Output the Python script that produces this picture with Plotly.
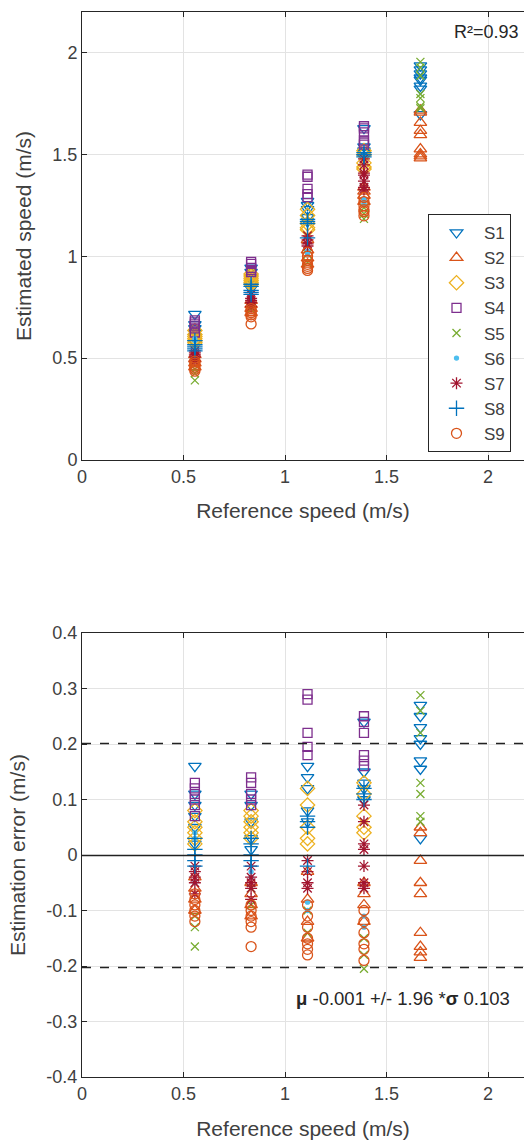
import plotly.graph_objects as go

# ---------------- data ----------------
ref_speeds = [0.556, 0.833, 1.111, 1.389, 1.667]
subjects = ["S1", "S2", "S3", "S4", "S5", "S6", "S7", "S8", "S9"]

# estimation errors (m/s) per subject, one list per reference speed
err_S1 = [[0.16, 0.11, 0.09, 0.07, 0.05, 0.02],
          [0.11, 0.09, 0.06, 0.03, 0.01],
          [0.16, 0.14, 0.12, 0.08, 0.06],
          [0.24, 0.15, 0.13, 0.12, 0.10],
          [0.27, 0.25, 0.23, 0.21, 0.20, 0.17, 0.155, 0.03]]
err_S2 = [[-0.04, -0.06, -0.08, -0.10],
          [-0.05, -0.07, -0.09, -0.11],
          [-0.03, -0.08, -0.12, -0.15],
          [-0.05, -0.07, -0.09, -0.12],
          [0.05, 0.04, -0.01, -0.05, -0.07, -0.14, -0.165, -0.175, -0.185]]
err_S3 = [[0.08, 0.06, 0.05, 0.04, 0.03, 0.02],
          [0.08, 0.07, 0.06, 0.05, 0.04, 0.03],
          [0.12, 0.09, 0.05, 0.03, 0.02],
          [0.13, 0.11, 0.07, 0.05, 0.04],
          []]
err_S4 = [[0.13, 0.12, 0.11, 0.10, 0.09, 0.07],
          [0.14, 0.13, 0.11, 0.10, 0.09],
          [0.29, 0.28, 0.22, 0.195, 0.18],
          [0.25, 0.24, 0.22, 0.18, 0.17, 0.16],
          []]
err_S5 = [[-0.11, -0.13, -0.165],
          [-0.06, -0.09],
          [-0.10, -0.14],
          [-0.15, -0.18, -0.205],
          [0.288, 0.26, 0.22, 0.13, 0.11, 0.07, 0.06]]
err_S6 = [[0.04, 0.03, -0.05],
          [-0.03, -0.04],
          [-0.085, -0.10],
          [-0.13, -0.11],
          []]
err_S7 = [[-0.02, -0.03, -0.04, -0.05, -0.07],
          [-0.02, -0.04, -0.05, -0.06, -0.08],
          [-0.01, -0.03, -0.05, -0.06],
          [0.09, 0.06, 0.02, 0.01, -0.02, -0.05, -0.06],
          []]
err_S8 = [[0.03, 0.01, 0.0, -0.01, -0.02],
          [0.03, 0.02, 0.0, -0.01, -0.02],
          [0.07, 0.06, 0.05, -0.02],
          [0.12, 0.11, 0.10],
          []]
err_S9 = [[-0.07, -0.08, -0.09, -0.10, -0.11, -0.12],
          [-0.09, -0.10, -0.11, -0.12, -0.13, -0.165],
          [-0.09, -0.11, -0.13, -0.15, -0.16, -0.17, -0.18],
          [-0.10, -0.12, -0.14, -0.16, -0.17, -0.19],
          []]
errors = [err_S1, err_S2, err_S3, err_S4, err_S5, err_S6, err_S7, err_S8, err_S9]

r_squared_text = "R²=0.93"
mean_err = -0.001
sd_err = 0.103
x_ticks = [0, 0.5, 1, 1.5, 2]
x_ticklabels = ["0", "0.5", "1", "1.5", "2"]
y1_ticks = [0, 0.5, 1, 1.5, 2]
y1_ticklabels = ["0", "0.5", "1", "1.5", "2"]
y2_ticks = [-0.4, -0.3, -0.2, -0.1, 0, 0.1, 0.2, 0.3, 0.4]
y2_ticklabels = ["-0.4", "-0.3", "-0.2", "-0.1", "0", "0.1", "0.2", "0.3", "0.4"]

# ---------------- styles ----------------
colors = ["#0072BD", "#D95319", "#EDB120", "#7E2F8E", "#77AC30",
          "#4DBEEE", "#A2142F", "#0072BD", "#D95319"]
symbols = ["triangle-down-open", "triangle-up-open", "diamond-open", "square-open",
           "x-thin-open", "circle", "asterisk-open", "cross-thin-open", "circle-open"]
sizes = [11, 11, 11, 9, 8, 4, 10, 11, 10]

W, H = 524, 1142
L = 82
PXU = 203.0          # pixels per m/s along x
top_px = (12, 460)
bot_px = (633, 1077)
FONT = "Liberation Sans, Arial, sans-serif"
AX = "#262626"
TXT = "#404040"
TICK_FS = 18
TITLE_FS = 21

fig = go.Figure()

for i, name in enumerate(subjects):
    xs, y_est, y_err = [], [], []
    for s, vals in zip(ref_speeds, errors[i]):
        for e in vals:
            xs.append(s)
            y_err.append(e)
            y_est.append(s + e)
    mk = dict(symbol=symbols[i], size=sizes[i], color=colors[i],
              line=dict(color=colors[i], width=1.3))
    fig.add_trace(go.Scatter(x=xs, y=y_est, mode="markers", name=name, marker=mk,
                             xaxis="x", yaxis="y", legendgroup=name, showlegend=True))
    fig.add_trace(go.Scatter(x=xs, y=y_err, mode="markers", name=name, marker=mk,
                             xaxis="x2", yaxis="y2", legendgroup=name, showlegend=False))

def dom(px):
    return [1 - px[1] / H, 1 - px[0] / H]

xr = [0, (W - L) / PXU]
axis_common = dict(showline=True, linecolor=AX, linewidth=1, ticks="inside", ticklen=5,
                   tickcolor=AX, tickfont=dict(family=FONT, size=TICK_FS, color=TXT),
                   showgrid=True, gridcolor="#e3e3e3", gridwidth=1, zeroline=False,
                   automargin=False)

fig.update_layout(
    template="none",
    width=W, height=H,
    margin=dict(l=L, r=0, t=0, b=0, autoexpand=False),
    paper_bgcolor="white", plot_bgcolor="white",
    font=dict(family=FONT, color=AX),
    xaxis=dict(domain=[0, 1], range=xr, anchor="y", tickvals=x_ticks, ticktext=x_ticklabels,
               mirror="ticks",
               title=dict(text="Reference speed (m/s)", font=dict(size=TITLE_FS, color=TXT),
                          standoff=17),
               **axis_common),
    yaxis=dict(domain=dom(top_px), range=[0, 2.2], anchor="x", tickvals=y1_ticks,
               ticktext=y1_ticklabels,
               title=dict(text="Estimated speed (m/s)", font=dict(size=TITLE_FS, color=TXT),
                          standoff=15),
               **axis_common),
    xaxis2=dict(domain=[0, 1], range=xr, anchor="y2", tickvals=x_ticks, ticktext=x_ticklabels,
                mirror="ticks",
                title=dict(text="Reference speed (m/s)", font=dict(size=TITLE_FS, color=TXT),
                           standoff=18),
                **axis_common),
    yaxis2=dict(domain=dom(bot_px), range=[-0.4, 0.4], anchor="x2", tickvals=y2_ticks,
                ticktext=y2_ticklabels,
                title=dict(text="Estimation error (m/s)", font=dict(size=TITLE_FS, color=TXT),
                           standoff=15),
                **axis_common),
    legend=dict(x=(428 - L) / (W - L), y=1 - 214 / H, xanchor="left", yanchor="top",
                bgcolor="white", bordercolor=AX, borderwidth=1,
                font=dict(family=FONT, size=17, color=TXT),
                tracegroupgap=0, itemwidth=45),
    showlegend=True,
)

# bias line and limits of agreement
upper = mean_err + 1.96 * sd_err
lower = mean_err - 1.96 * sd_err
fig.add_shape(type="line", xref="x2 domain", yref="y2", x0=0, x1=1, y0=mean_err, y1=mean_err,
              line=dict(color="#222222", width=1.5))
for yv in (upper, lower):
    fig.add_shape(type="line", xref="x2 domain", yref="y2", x0=0, x1=1, y0=yv, y1=yv,
                  line=dict(color="#222222", width=1.5, dash="dash"))

fig.add_annotation(xref="paper", yref="y", x=(521 - L) / (W - L), y=2.103,
                   xanchor="right", yanchor="middle",
                   text=r_squared_text, showarrow=False,
                   font=dict(family=FONT, size=18, color=AX))
fig.add_annotation(xref="x2", yref="y2", x=(294 - L) / PXU, y=lower - 0.056,
                   xanchor="left", yanchor="middle", showarrow=False,
                   text="<b>μ</b> %.3f +/- 1.96 *<b>σ</b> %.3f" % (mean_err, sd_err),
                   font=dict(family=FONT, size=18.5, color=AX))

fig.write_html("out.html", config={"displayModeBar": False},
               post_script="document.body.style.margin='0';")
